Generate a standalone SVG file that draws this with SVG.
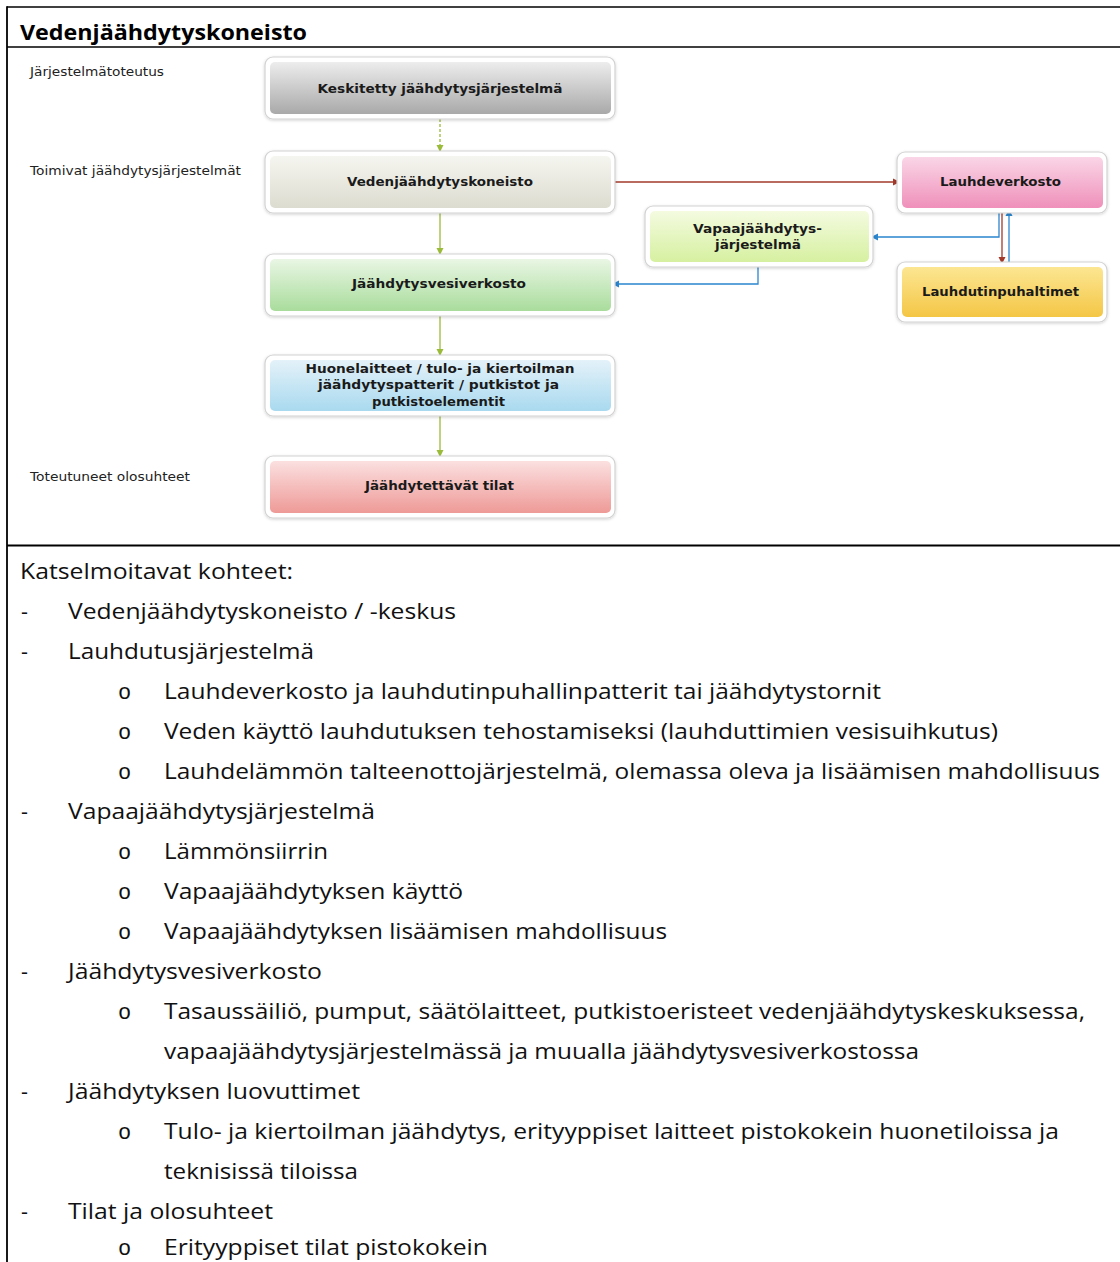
<svg xmlns="http://www.w3.org/2000/svg" width="1120" height="1262" viewBox="0 0 1120 1262">
<defs>
<style>
.frame{fill:#ffffff;stroke:#d2d2d2;stroke-width:1.2;filter:url(#sh)}
.nt{font-family:"DejaVu Sans","Liberation Sans",sans-serif;font-weight:bold;font-size:12px;fill:#1a1a1a;text-anchor:middle;dominant-baseline:central}
.lab{font-family:"DejaVu Sans","Liberation Sans",sans-serif;font-size:11.5px;fill:#222;dominant-baseline:central}
.body{font-family:"Open Sans","Noto Sans","Liberation Sans",sans-serif;font-size:21.5px;fill:#111}
.bul{font-family:"Liberation Mono","DejaVu Sans Mono",monospace;font-size:22px}
.g{stroke:#9bbb3b;stroke-width:1.3;fill:none}
.r{stroke:#a33a2a;stroke-width:1.3;fill:none}
.b{stroke:#2a86cf;stroke-width:1.3;fill:none}
.tl{stroke:#000;fill:none}
</style>
<filter id="sh" x="-10%" y="-20%" width="120%" height="140%"><feDropShadow dx="0" dy="1" stdDeviation="1.5" flood-color="#000" flood-opacity="0.18"/></filter>
<linearGradient id="gGray" x1="0" y1="0" x2="0" y2="1"><stop offset="0" stop-color="#ededed"/><stop offset="1" stop-color="#a9a9a9"/></linearGradient>
<linearGradient id="gBeige" x1="0" y1="0" x2="0" y2="1"><stop offset="0" stop-color="#f6f6f0"/><stop offset="1" stop-color="#dcdcd0"/></linearGradient>
<linearGradient id="gGreen" x1="0" y1="0" x2="0" y2="1"><stop offset="0" stop-color="#e9f6e4"/><stop offset="1" stop-color="#a9dc9c"/></linearGradient>
<linearGradient id="gBlue" x1="0" y1="0" x2="0" y2="1"><stop offset="0" stop-color="#e4f2f9"/><stop offset="1" stop-color="#a9d9ef"/></linearGradient>
<linearGradient id="gRed" x1="0" y1="0" x2="0" y2="1"><stop offset="0" stop-color="#fbe0e0"/><stop offset="1" stop-color="#ee9a97"/></linearGradient>
<linearGradient id="gPink" x1="0" y1="0" x2="0" y2="1"><stop offset="0" stop-color="#fad6e7"/><stop offset="1" stop-color="#ef90ba"/></linearGradient>
<linearGradient id="gLime" x1="0" y1="0" x2="0" y2="1"><stop offset="0" stop-color="#f4fbe0"/><stop offset="1" stop-color="#d6f0a0"/></linearGradient>
<linearGradient id="gYellow" x1="0" y1="0" x2="0" y2="1"><stop offset="0" stop-color="#fce692"/><stop offset="1" stop-color="#f4c645"/></linearGradient>
<marker id="aG" markerWidth="8" markerHeight="8" refX="7" refY="4" orient="auto" markerUnits="userSpaceOnUse"><path d="M0,0.5 L7,4 L0,7.5 z" fill="#9bbb3b"/></marker>
<marker id="aR" markerWidth="8" markerHeight="8" refX="7" refY="4" orient="auto" markerUnits="userSpaceOnUse"><path d="M0,0.5 L7,4 L0,7.5 z" fill="#a33a2a"/></marker>
<marker id="aB" markerWidth="8" markerHeight="8" refX="7" refY="4" orient="auto" markerUnits="userSpaceOnUse"><path d="M0,0.5 L7,4 L0,7.5 z" fill="#2a86cf"/></marker>
</defs>
<rect width="1120" height="1262" fill="#ffffff"/>

<g id="table">
<line class="tl" x1="7" y1="7" x2="1120" y2="7" stroke-width="1.5"/>
<line class="tl" x1="7" y1="6.3" x2="7" y2="1262" stroke-width="1.8"/>
<line class="tl" x1="7" y1="47" x2="1120" y2="47" stroke-width="1.3"/>
<line class="tl" x1="7" y1="545.5" x2="1120" y2="545.5" stroke-width="2"/>
<text x="20" y="40" font-family="'Open Sans','Noto Sans','Liberation Sans',sans-serif" font-weight="bold" font-size="22" fill="#000" textLength="287" lengthAdjust="spacingAndGlyphs">Vedenjäähdytyskoneisto</text>
</g>

<g id="labels">
<text class="lab" x="30" y="72" textLength="134" lengthAdjust="spacingAndGlyphs">Järjestelmätoteutus</text>
<text class="lab" x="30" y="171" textLength="211" lengthAdjust="spacingAndGlyphs">Toimivat jäähdytysjärjestelmät</text>
<text class="lab" x="30" y="477" textLength="160" lengthAdjust="spacingAndGlyphs">Toteutuneet olosuhteet</text>
</g>

<g id="connectors">
<line class="g" x1="440" y1="119" x2="440" y2="152" stroke-dasharray="3,2" marker-end="url(#aG)"/>
<line class="g" x1="440" y1="212" x2="440" y2="255" marker-end="url(#aG)"/>
<line class="g" x1="440" y1="315" x2="440" y2="356" marker-end="url(#aG)"/>
<line class="g" x1="440" y1="415" x2="440" y2="457" marker-end="url(#aG)"/>
<line class="r" x1="611" y1="182" x2="900" y2="182" marker-end="url(#aR)"/>
<line class="r" x1="1002" y1="209" x2="1002" y2="264" marker-end="url(#aR)"/>
<line class="b" x1="1009" y1="264" x2="1009" y2="209" marker-end="url(#aB)"/>
<polyline class="b" points="999,209 999,237 871,237" marker-end="url(#aB)"/>
<polyline class="b" points="758,265 758,284 612,284" marker-end="url(#aB)"/>
</g>

<g id="n-keskitetty">
<rect class="frame" x="265" y="57" width="350" height="62" rx="8"/>
<rect x="270" y="62" width="341" height="52" rx="5" fill="url(#gGray)"/>
<text class="nt" x="440" y="89" textLength="245" lengthAdjust="spacingAndGlyphs">Keskitetty jäähdytysjärjestelmä</text>
</g>
<g id="n-vedenjaahdytys">
<rect class="frame" x="265" y="151" width="350" height="62" rx="8"/>
<rect x="270" y="156" width="341" height="52" rx="5" fill="url(#gBeige)"/>
<text class="nt" x="440" y="182" textLength="186" lengthAdjust="spacingAndGlyphs">Vedenjäähdytyskoneisto</text>
</g>
<g id="n-jaahdytysvesi">
<rect class="frame" x="265" y="254" width="350" height="62" rx="8"/>
<rect x="270" y="259" width="341" height="52" rx="5" fill="url(#gGreen)"/>
<text class="nt" x="439" y="284" textLength="174" lengthAdjust="spacingAndGlyphs">Jäähdytysvesiverkosto</text>
</g>
<g id="n-huonelaitteet">
<rect class="frame" x="265" y="355" width="350" height="61" rx="8"/>
<rect x="270" y="360" width="341" height="51" rx="5" fill="url(#gBlue)"/>
<text class="nt" x="440" y="368.5" textLength="269" lengthAdjust="spacingAndGlyphs">Huonelaitteet / tulo- ja kiertoilman</text>
<text class="nt" x="438.5" y="385" textLength="241" lengthAdjust="spacingAndGlyphs">jäähdytyspatterit / putkistot ja</text>
<text class="nt" x="438.5" y="401.5" textLength="133" lengthAdjust="spacingAndGlyphs">putkistoelementit</text>
</g>
<g id="n-jaahdytettavat">
<rect class="frame" x="265" y="456" width="350" height="62" rx="8"/>
<rect x="270" y="461" width="341" height="52" rx="5" fill="url(#gRed)"/>
<text class="nt" x="439.5" y="486" textLength="149" lengthAdjust="spacingAndGlyphs">Jäähdytettävät tilat</text>
</g>
<g id="n-lauhdeverkosto">
<rect class="frame" x="897" y="152" width="210" height="61" rx="8"/>
<rect x="902" y="157" width="201" height="51" rx="5" fill="url(#gPink)"/>
<text class="nt" x="1000.5" y="182" textLength="121" lengthAdjust="spacingAndGlyphs">Lauhdeverkosto</text>
</g>
<g id="n-vapaajaahdytys">
<rect class="frame" x="645" y="206" width="228" height="61" rx="8"/>
<rect x="650" y="211" width="219" height="51" rx="5" fill="url(#gLime)"/>
<text class="nt" x="757.5" y="228.5" textLength="129" lengthAdjust="spacingAndGlyphs">Vapaajäähdytys-</text>
<text class="nt" x="758" y="245" textLength="86" lengthAdjust="spacingAndGlyphs">järjestelmä</text>
</g>
<g id="n-lauhdutinpuhaltimet">
<rect class="frame" x="897" y="262" width="210" height="60" rx="8"/>
<rect x="902" y="267" width="201" height="50" rx="5" fill="url(#gYellow)"/>
<text class="nt" x="1000.5" y="291.5" textLength="157" lengthAdjust="spacingAndGlyphs">Lauhdutinpuhaltimet</text>
</g>

<g id="body" class="body">
<text x="20" y="579" textLength="273" lengthAdjust="spacingAndGlyphs">Katselmoitavat kohteet:</text>
<text x="21" y="619">-</text><text x="68" y="619" textLength="388" lengthAdjust="spacingAndGlyphs">Vedenjäähdytyskoneisto / -keskus</text>
<text x="21" y="659">-</text><text x="68" y="659" textLength="246" lengthAdjust="spacingAndGlyphs">Lauhdutusjärjestelmä</text>
<text class="bul" x="118" y="699">o</text><text x="164" y="699" textLength="717" lengthAdjust="spacingAndGlyphs">Lauhdeverkosto ja lauhdutinpuhallinpatterit tai jäähdytystornit</text>
<text class="bul" x="118" y="739">o</text><text x="164" y="739" textLength="834" lengthAdjust="spacingAndGlyphs">Veden käyttö lauhdutuksen tehostamiseksi (lauhduttimien vesisuihkutus)</text>
<text class="bul" x="118" y="779">o</text><text x="164" y="779" textLength="936" lengthAdjust="spacingAndGlyphs">Lauhdelämmön talteenottojärjestelmä, olemassa oleva ja lisäämisen mahdollisuus</text>
<text x="21" y="819">-</text><text x="68" y="819" textLength="307" lengthAdjust="spacingAndGlyphs">Vapaajäähdytysjärjestelmä</text>
<text class="bul" x="118" y="859">o</text><text x="164" y="859" textLength="164" lengthAdjust="spacingAndGlyphs">Lämmönsiirrin</text>
<text class="bul" x="118" y="899">o</text><text x="164" y="899" textLength="299" lengthAdjust="spacingAndGlyphs">Vapaajäähdytyksen käyttö</text>
<text class="bul" x="118" y="939">o</text><text x="164" y="939" textLength="503" lengthAdjust="spacingAndGlyphs">Vapaajäähdytyksen lisäämisen mahdollisuus</text>
<text x="21" y="979">-</text><text x="68" y="979" textLength="254" lengthAdjust="spacingAndGlyphs">Jäähdytysvesiverkosto</text>
<text class="bul" x="118" y="1019">o</text><text x="164" y="1019" textLength="921" lengthAdjust="spacingAndGlyphs">Tasaussäiliö, pumput, säätölaitteet, putkistoeristeet vedenjäähdytyskeskuksessa,</text>
<text x="164" y="1059" textLength="755" lengthAdjust="spacingAndGlyphs">vapaajäähdytysjärjestelmässä ja muualla jäähdytysvesiverkostossa</text>
<text x="21" y="1099">-</text><text x="68" y="1099" textLength="292" lengthAdjust="spacingAndGlyphs">Jäähdytyksen luovuttimet</text>
<text class="bul" x="118" y="1139">o</text><text x="164" y="1139" textLength="895" lengthAdjust="spacingAndGlyphs">Tulo- ja kiertoilman jäähdytys, erityyppiset laitteet pistokokein huonetiloissa ja</text>
<text x="164" y="1179" textLength="194" lengthAdjust="spacingAndGlyphs">teknisissä tiloissa</text>
<text x="21" y="1219">-</text><text x="68" y="1219" textLength="205" lengthAdjust="spacingAndGlyphs">Tilat ja olosuhteet</text>
<text class="bul" x="118" y="1255">o</text><text x="164" y="1255" textLength="324" lengthAdjust="spacingAndGlyphs">Erityyppiset tilat pistokokein</text>
</g>
</svg>
